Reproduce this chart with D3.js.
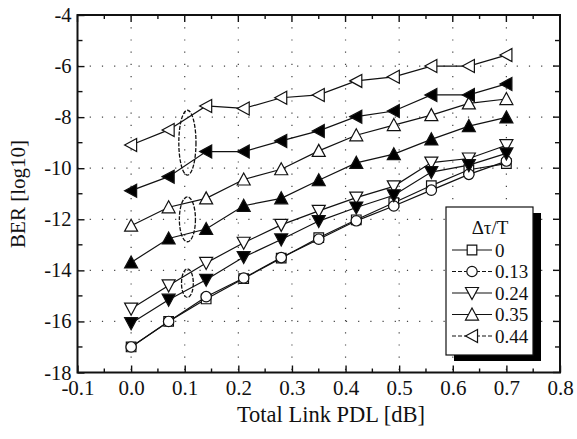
<!DOCTYPE html>
<html>
<head>
<meta charset="utf-8">
<script src="https://cdn.jsdelivr.net/npm/d3@7"></script>
<style>
  body { margin: 0; background: #fff; }
  text { font-family: "Liberation Serif", "Times New Roman", serif; fill: #111; }
</style>
</head>
<body>
<div id="chart"></div>
<script>
// Data
var pdl = [0, 0.07, 0.14, 0.21, 0.28, 0.35, 0.42, 0.49, 0.56, 0.63, 0.70];

var ber0    = [-17.0, -16.0, -15.12, -14.32, -13.52, -12.72, -12.02, -11.35, -10.68, -10.06, -9.82];
var ber013  = [-17.0, -16.0, -15.03, -14.30, -13.50, -12.78, -12.06, -11.48, -10.86, -10.24, -9.72];
var ber024  = [-15.50, -14.59, -13.71, -12.92, -12.22, -11.67, -11.15, -10.71, -9.78, -9.62, -9.10];
var ber024f = [-16.07, -15.15, -14.37, -13.48, -12.79, -12.07, -11.54, -11.06, -10.15, -9.88, -9.42];
var ber035  = [-12.25, -11.53, -11.18, -10.44, -10.04, -9.32, -8.71, -8.31, -7.92, -7.46, -7.29];
var ber035f = [-13.69, -12.75, -12.38, -11.47, -11.18, -10.47, -9.79, -9.45, -8.87, -8.35, -8.01];
var ber044  = [-9.09, -8.50, -7.56, -7.66, -7.24, -7.13, -6.58, -6.42, -6.00, -6.00, -5.57];
var ber044f = [-10.88, -10.33, -9.35, -9.35, -8.93, -8.54, -7.98, -7.76, -7.13, -7.13, -6.70];

var legendLabels = ["0", "0.13", "0.24", "0.35", "0.44"];
var xTicks = [-0.1, 0.0, 0.1, 0.2, 0.3, 0.4, 0.5, 0.6, 0.7, 0.8];
var yTicks = [-18, -16, -14, -12, -10, -8, -6, -4];

// dashed ellipses around the x = 0.1 points
var ellipseX  = [0.105, 0.105, 0.105];
var ellipseY  = [-9.0, -12.0, -14.5];
var ellipseRx = [0.016, 0.015, 0.011];
var ellipseRy = [1.27, 0.88, 0.56];

var series = [
  { values: ber0,    shape: "square", filled: false, dash: false, legend: 0 },
  { values: ber013,  shape: "circle", filled: false, dash: true,  legend: 1 },
  { values: ber024,  shape: "down",   filled: false, dash: false, legend: 2 },
  { values: ber024f, shape: "down",   filled: true,  dash: false },
  { values: ber035,  shape: "up",     filled: false, dash: false, legend: 3 },
  { values: ber035f, shape: "up",     filled: true,  dash: false },
  { values: ber044,  shape: "left",   filled: false, dash: true,  legend: 4 },
  { values: ber044f, shape: "left",   filled: true,  dash: false }
];

var svgWidth = 577;
var svgHeight = 439;
var margin = { top: 15, right: 17, bottom: 66.5, left: 77.5 };
var width = svgWidth - margin.left - margin.right;
var height = svgHeight - margin.top - margin.bottom;

var svg = d3.select("#chart")
  .append("svg")
  .attr("width", svgWidth)
  .attr("height", svgHeight);

var chartGroup = svg.append("g")
  .attr("transform", `translate(${margin.left}, ${margin.top})`);

var xScale = d3.scaleLinear().domain([-0.1, 0.8]).range([0, width]);
var yScale = d3.scaleLinear().domain([-18, -4]).range([height, 0]);

// sparse dotted grid
var gridX = d3.range(0, 0.75, 0.1);
var gridY = [-16, -14, -12, -10, -8, -6];
chartGroup.selectAll(".gx").data(gridX).enter().append("line")
  .attr("x1", d => xScale(d)).attr("x2", d => xScale(d))
  .attr("y1", 0).attr("y2", height)
  .attr("stroke", "#444").attr("stroke-width", 1.2)
  .attr("stroke-dasharray", "1.2,11");
chartGroup.selectAll(".gy").data(gridY).enter().append("line")
  .attr("y1", d => yScale(d)).attr("y2", d => yScale(d))
  .attr("x1", 0).attr("x2", width)
  .attr("stroke", "#444").attr("stroke-width", 1.2)
  .attr("stroke-dasharray", "1.2,11");

// hyphen instead of the unicode minus, like the original
var fmtX = d => d3.format(".1f")(d).replace("\u2212", "-");
var fmtY = d => String(d);

// axes with inward ticks on all four sides
var xMajor = d3.axisBottom(xScale).tickValues(xTicks).tickSize(-7).tickFormat(fmtX);
var xMinor = d3.range(-0.05, 0.8, 0.1);
var yMinor = d3.range(-17, -4, 2);

var bottom = chartGroup.append("g")
  .attr("transform", `translate(0, ${height})`)
  .call(xMajor);
bottom.selectAll("text")
  .attr("dy", 0).attr("y", 22)
  .style("font-size", "21px");

var yMajor = d3.axisLeft(yScale).tickValues(yTicks).tickSize(-7).tickFormat(fmtY);
var left = chartGroup.append("g").call(yMajor);
left.selectAll("text")
  .attr("x", -6)
  .style("font-size", "20.5px");

[bottom, left].forEach(function(a) {
  a.select(".domain").remove();
  a.selectAll("line").attr("stroke", "#111").attr("stroke-width", 1.4);
  a.selectAll("text").attr("fill", "#111");
});

// top and right ticks + minor ticks
function tickLines(vals, horizontal, pos, len) {
  chartGroup.append("g").selectAll("line").data(vals).enter().append("line")
    .attr("x1", d => horizontal ? xScale(d) : pos)
    .attr("x2", d => horizontal ? xScale(d) : pos + len)
    .attr("y1", d => horizontal ? pos : yScale(d))
    .attr("y2", d => horizontal ? pos + len : yScale(d))
    .attr("stroke", "#111").attr("stroke-width", 1.4);
}
tickLines(xTicks, true, 0, 7);
tickLines(xMinor, true, height, -4);
tickLines(xMinor, true, 0, 4);
tickLines(yTicks, false, width, -7);
tickLines(yMinor, false, 0, 5);
tickLines(yMinor, false, width, -5);

// frame
chartGroup.append("rect")
  .attr("width", width).attr("height", height)
  .attr("fill", "none").attr("stroke", "#111").attr("stroke-width", 2);

// dashed ellipses
chartGroup.selectAll(".ell").data(ellipseX).enter().append("ellipse")
  .attr("cx", d => xScale(d))
  .attr("cy", (d, i) => yScale(ellipseY[i]))
  .attr("rx", (d, i) => xScale(d + ellipseRx[i]) - xScale(d))
  .attr("ry", (d, i) => yScale(ellipseY[i] - ellipseRy[i]) - yScale(ellipseY[i]))
  .attr("fill", "none").attr("stroke", "#111").attr("stroke-width", 1.3)
  .attr("stroke-dasharray", "4,1.5");

// marker shapes
function markerPath(shape) {
  var s = 6.5;
  if (shape === "square") return "M-4.8,-4.8H4.8V4.8H-4.8Z";
  if (shape === "circle") return d3.symbol().type(d3.symbolCircle).size(85)();
  if (shape === "up") return `M0,${-s}L${s},${s * 0.85}L${-s},${s * 0.85}Z`;
  if (shape === "down") return `M0,${s}L${s},${-s * 0.85}L${-s},${-s * 0.85}Z`;
  return `M${-s},0L${s * 0.85},${-s}L${s * 0.85},${s}Z`;
}

var line = d3.line()
  .x((d, i) => xScale(pdl[i]))
  .y(d => yScale(d));

series.forEach(function(s) {
  chartGroup.append("path")
    .datum(s.values)
    .attr("d", line)
    .attr("fill", "none")
    .attr("stroke", "#111")
    .attr("stroke-width", 1.2);
});

series.forEach(function(s) {
  chartGroup.selectAll(null)
    .data(s.values)
    .enter()
    .append("path")
    .attr("transform", (d, i) => `translate(${xScale(pdl[i])}, ${yScale(d)})`)
    .attr("d", markerPath(s.shape))
    .attr("fill", s.filled ? "#000" : "#fff")
    .attr("stroke", "#111")
    .attr("stroke-width", 1.2);
});

// legend with drop shadow
var legend = svg.append("g").attr("transform", "translate(446, 207)");
legend.append("rect")
  .attr("x", 8).attr("y", 6).attr("width", 87).attr("height", 148)
  .attr("fill", "#000");
legend.append("rect")
  .attr("width", 87).attr("height", 148)
  .attr("fill", "#fff").attr("stroke", "#111").attr("stroke-width", 1.2);
legend.append("text")
  .attr("x", 44).attr("y", 27)
  .attr("text-anchor", "middle")
  .style("font-size", "19px")
  .text("\u0394\u03c4/T");

var legendItems = series.filter(s => s.legend !== undefined);
legendItems.forEach(function(s) {
  var yPos = 43 + s.legend * 21.5;
  legend.append("line")
    .attr("x1", 6).attr("x2", 46).attr("y1", yPos).attr("y2", yPos)
    .attr("stroke", "#111").attr("stroke-width", 1.2)
    .attr("stroke-dasharray", s.dash ? "4,2" : null);
  legend.append("path")
    .attr("transform", `translate(26, ${yPos})`)
    .attr("d", markerPath(s.shape))
    .attr("fill", "#fff").attr("stroke", "#111").attr("stroke-width", 1.2);
  legend.append("text")
    .attr("x", 49).attr("y", yPos).attr("dy", "0.35em")
    .style("font-size", "19px")
    .text(legendLabels[s.legend]);
});

// axis titles
svg.append("text")
  .attr("x", 331).attr("y", 422)
  .attr("text-anchor", "middle")
  .style("font-size", "22.5px")
  .text("Total Link PDL [dB]");

svg.append("text")
  .attr("transform", "translate(25, 194) rotate(-90)")
  .attr("text-anchor", "middle")
  .style("font-size", "21px")
  .text("BER [log10]");
</script>
</body>
</html>
